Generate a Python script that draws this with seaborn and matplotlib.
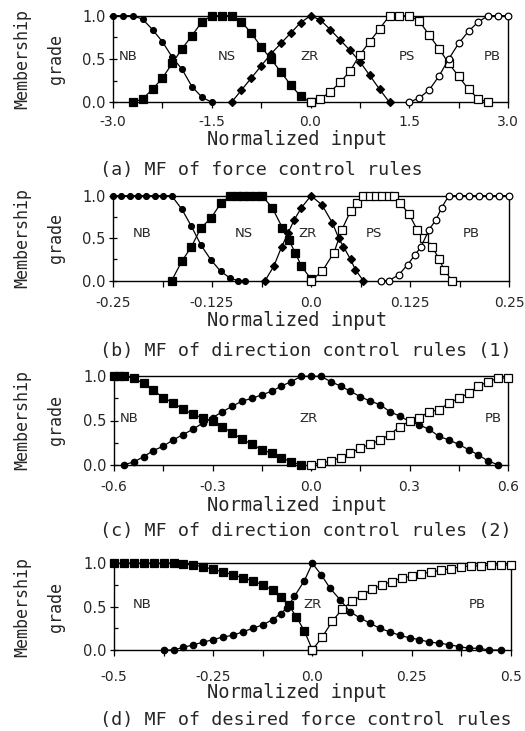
import matplotlib
matplotlib.use("Agg")
import matplotlib.pyplot as plt
import seaborn as sns

# ---------------- data ----------------
# (a) force control rules
a_nb_x = [-3.0, -2.85, -2.7, -2.55, -2.4, -2.25, -2.1, -1.95, -1.8, -1.65, -1.5]
a_nb_y = [1.0, 1.0, 1.0, 0.96, 0.84, 0.70, 0.52, 0.38, 0.18, 0.06, 0.0]
a_ns_x = [-2.7, -2.55, -2.4, -2.25, -2.1, -1.95, -1.8, -1.65, -1.5, -1.35, -1.2,
          -1.05, -0.9, -0.75, -0.6, -0.45, -0.3, -0.15, 0.0]
a_ns_y = [0.0, 0.04, 0.15, 0.28, 0.45, 0.62, 0.77, 0.93, 1.0, 1.0, 1.0,
          0.93, 0.80, 0.64, 0.50, 0.35, 0.20, 0.07, 0.0]
a_zr_x = [-1.2, -1.05, -0.9, -0.75, -0.6, -0.45, -0.3, -0.15, 0.0,
          0.15, 0.3, 0.45, 0.6, 0.75, 0.9, 1.05, 1.2]
a_zr_y = [0.0, 0.14, 0.28, 0.42, 0.56, 0.68, 0.80, 0.92, 1.0,
          0.95, 0.84, 0.72, 0.60, 0.47, 0.31, 0.15, 0.0]
a_ps_x = [0.0, 0.15, 0.3, 0.45, 0.6, 0.75, 0.9, 1.05, 1.2, 1.35, 1.5,
          1.65, 1.8, 1.95, 2.1, 2.25, 2.4, 2.55, 2.7]
a_ps_y = [0.0, 0.04, 0.12, 0.23, 0.36, 0.55, 0.70, 0.85, 1.0, 1.0, 1.0,
          0.94, 0.78, 0.62, 0.45, 0.30, 0.15, 0.04, 0.0]
a_pb_x = [1.5, 1.65, 1.8, 1.95, 2.1, 2.25, 2.4, 2.55, 2.7, 2.85, 3.0]
a_pb_y = [0.0, 0.05, 0.14, 0.30, 0.50, 0.68, 0.82, 0.93, 1.0, 1.0, 1.0]

# (b) direction control rules (1)
b_nb_x = [-0.25, -0.24, -0.229, -0.218, -0.208, -0.197, -0.187, -0.176,
          -0.163, -0.151, -0.139, -0.126, -0.114, -0.102, -0.092, -0.083]
b_nb_y = [1.0, 1.0, 1.0, 1.0, 1.0, 1.0, 1.0, 1.0,
          0.84, 0.64, 0.42, 0.24, 0.11, 0.03, 0.0, 0.0]
b_ns_x = [-0.176, -0.163, -0.151, -0.139, -0.126, -0.114, -0.102, -0.094, -0.086,
          -0.078, -0.070, -0.062, -0.049, -0.036, -0.028, -0.020, -0.012, 0.0]
b_ns_y = [0.0, 0.23, 0.40, 0.62, 0.74, 0.91, 1.0, 1.0, 1.0,
          1.0, 1.0, 1.0, 0.86, 0.62, 0.48, 0.33, 0.17, 0.02]
b_zr_x = [-0.058, -0.047, -0.037, -0.029, -0.021, -0.012, 0.0,
          0.014, 0.027, 0.035, 0.041, 0.050, 0.056, 0.066]
b_zr_y = [0.0, 0.17, 0.40, 0.56, 0.72, 0.86, 1.0,
          0.89, 0.68, 0.50, 0.40, 0.25, 0.13, 0.0]
b_ps_x = [0.0, 0.014, 0.029, 0.039, 0.050, 0.058, 0.066, 0.074, 0.082, 0.090,
          0.098, 0.105, 0.113, 0.124, 0.134, 0.143, 0.153, 0.162, 0.168, 0.178]
b_ps_y = [0.0, 0.11, 0.33, 0.60, 0.82, 0.92, 1.0, 1.0, 1.0, 1.0,
          1.0, 1.0, 0.91, 0.78, 0.60, 0.50, 0.40, 0.25, 0.13, 0.0]
b_pb_x = [0.088, 0.098, 0.111, 0.122, 0.131, 0.139, 0.149, 0.158, 0.165,
          0.174, 0.187, 0.199, 0.212, 0.225, 0.237, 0.25]
b_pb_y = [0.0, 0.0, 0.07, 0.19, 0.30, 0.40, 0.60, 0.72, 0.86,
          1.0, 1.0, 1.0, 1.0, 1.0, 1.0, 1.0]

# (c) direction control rules (2)
c_nb_x = [-0.6, -0.585, -0.57, -0.54, -0.51, -0.48, -0.45, -0.42, -0.39, -0.36, -0.33,
          -0.30, -0.27, -0.24, -0.21, -0.18, -0.15, -0.12, -0.09, -0.06, -0.03]
c_nb_y = [1.0, 1.0, 1.0, 0.98, 0.92, 0.84, 0.76, 0.70, 0.63, 0.57, 0.53,
          0.49, 0.43, 0.36, 0.29, 0.23, 0.17, 0.13, 0.08, 0.03, 0.0]
c_zr_x = [-0.57, -0.54, -0.51, -0.48, -0.45, -0.42, -0.39, -0.36, -0.33, -0.30,
          -0.27, -0.24, -0.21, -0.18, -0.15, -0.12, -0.09, -0.06, -0.03, 0.0,
          0.03, 0.06, 0.09, 0.12, 0.15, 0.18, 0.21, 0.24, 0.27, 0.30,
          0.33, 0.36, 0.39, 0.42, 0.45, 0.48, 0.51, 0.54, 0.57]
c_zr_y = [0.0, 0.03, 0.09, 0.16, 0.21, 0.28, 0.34, 0.40, 0.47, 0.53,
          0.60, 0.66, 0.72, 0.75, 0.79, 0.83, 0.89, 0.94, 1.0, 1.0,
          1.0, 0.94, 0.89, 0.83, 0.77, 0.72, 0.68, 0.60, 0.55, 0.49,
          0.45, 0.40, 0.32, 0.28, 0.23, 0.17, 0.11, 0.04, 0.0]
c_pb_x = [0.0, 0.03, 0.06, 0.09, 0.12, 0.15, 0.18, 0.21, 0.24, 0.27, 0.30,
          0.33, 0.36, 0.39, 0.42, 0.45, 0.48, 0.51, 0.54, 0.57, 0.6]
c_pb_y = [0.0, 0.02, 0.04, 0.08, 0.13, 0.19, 0.23, 0.28, 0.34, 0.43, 0.49,
          0.53, 0.60, 0.62, 0.70, 0.75, 0.81, 0.89, 0.94, 0.98, 0.98]

# (d) desired force control rules
d_nb_x = [-0.5, -0.475, -0.45, -0.425, -0.4, -0.375, -0.35, -0.325, -0.3, -0.275, -0.25,
          -0.225, -0.2, -0.175, -0.15, -0.125, -0.1, -0.08, -0.06, -0.04, -0.02, 0.0]
d_nb_y = [1.0, 1.0, 1.0, 1.0, 1.0, 1.0, 1.0, 0.99, 0.98, 0.96, 0.93,
          0.90, 0.87, 0.83, 0.80, 0.75, 0.69, 0.61, 0.52, 0.38, 0.22, 0.0]
d_zr_x = [-0.375, -0.35, -0.325, -0.3, -0.275, -0.25, -0.225, -0.2, -0.175, -0.15,
          -0.125, -0.1, -0.08, -0.065, -0.045, -0.02, 0.0, 0.022, 0.045, 0.07,
          0.095, 0.12, 0.145, 0.17, 0.195, 0.22, 0.245, 0.27, 0.295, 0.32,
          0.345, 0.37, 0.395, 0.42, 0.445, 0.475]
d_zr_y = [0.0, 0.0, 0.03, 0.06, 0.09, 0.12, 0.15, 0.17, 0.21, 0.25,
          0.29, 0.35, 0.42, 0.48, 0.62, 0.80, 1.0, 0.87, 0.71, 0.58,
          0.44, 0.37, 0.31, 0.25, 0.21, 0.17, 0.14, 0.12, 0.09, 0.08,
          0.06, 0.04, 0.02, 0.02, 0.0, 0.0]
d_pb_x = [0.0, 0.025, 0.05, 0.075, 0.1, 0.125, 0.15, 0.175, 0.2, 0.225, 0.25,
          0.275, 0.3, 0.325, 0.35, 0.375, 0.4, 0.425, 0.45, 0.475, 0.5]
d_pb_y = [0.0, 0.15, 0.33, 0.47, 0.56, 0.63, 0.70, 0.75, 0.79, 0.83, 0.85,
          0.88, 0.90, 0.92, 0.94, 0.96, 0.97, 0.97, 0.98, 0.98, 0.98]

# tick values and labels
a_ticks = [-3.0, -1.5, 0.0, 1.5, 3.0]
a_ticklabels = ["-3.0", "-1.5", "0.0", "1.5", "3.0"]
b_ticks = [-0.25, -0.125, 0.0, 0.125, 0.25]
b_ticklabels = ["-0.25", "-0.125", "0.0", "0.125", "0.25"]
c_ticks = [-0.6, -0.3, 0.0, 0.3, 0.6]
c_ticklabels = ["-0.6", "-0.3", "0.0", "0.3", "0.6"]
d_ticks = [-0.5, -0.25, 0.0, 0.25, 0.5]
d_ticklabels = ["-0.5", "-0.25", "0.0", "0.25", "0.5"]
y_ticks = [0.0, 0.5, 1.0]
y_ticklabels = ["0.0", "0.5", "1.0"]

captions = ["(a) MF of force control rules",
            "(b) MF of direction control rules (1)",
            "(c) MF of direction control rules (2)",
            "(d) MF of desired force control rules"]

# ---------------- style ----------------
sns.set_style("white")
plt.rcParams["font.family"] = ["DejaVu Sans", "DejaVu Sans Mono"]
plt.rcParams["axes.unicode_minus"] = False
MONO = ["DejaVu Sans Mono", "DejaVu Sans"]

W, H = 525, 731
fig = plt.figure(figsize=(W / 100, H / 100), dpi=100)
fig.patch.set_facecolor("white")


def rect(l, r, t, b):
    return [l / W, 1 - b / H, (r - l) / W, (b - t) / H]


def curve(ax, x, y, marker, filled, ms):
    sns.lineplot(x=x, y=y, ax=ax, color="black", linewidth=0.9,
                 marker=marker, markersize=ms,
                 markerfacecolor="black" if filled else "white",
                 markeredgecolor="black", markeredgewidth=0.9,
                 estimator=None, sort=False, errorbar=None,
                 clip_on=False, zorder=3)


def frame(ax, lim, ticks, labels, minor_step, xpad):
    ax.set_xlim(-lim, lim)
    ax.set_ylim(0, 1)
    ax.set_xticks(ticks, labels)
    n = int(round(2 * lim / minor_step))
    ax.set_xticks([-lim + i * minor_step for i in range(n + 1)], minor=True)
    ax.set_yticks(y_ticks, y_ticklabels)
    ax.set_yticks([0.25, 0.75], minor=True)
    for s in ax.spines.values():
        s.set_visible(True)
        s.set_color("black")
        s.set_linewidth(1.0)
    ax.tick_params(axis="x", which="both", bottom=True, direction="out",
                   length=4, width=0.9, color="black")
    ax.tick_params(axis="x", which="major", pad=xpad, labelsize=10)
    ax.tick_params(axis="y", which="major", left=True, direction="inout",
                   length=6, width=0.9, pad=2.5, labelsize=10.5, color="black")
    ax.tick_params(axis="y", which="minor", left=True, direction="in",
                   length=3, width=0.9, color="black")
    ax.set_xlabel("")
    ax.set_ylabel("")


def region_labels(ax, items, y):
    for name, x in items:
        ax.text(x, y, name, ha="center", va="center", fontsize=9.5)


def side_text(ax_top, ax_bot, xlab_base):
    yc = (ax_top + ax_bot) / 2
    fig.text(22 / W, 1 - yc / H, "Membership", rotation=90, ha="center",
             va="center", fontsize=12, family=MONO)
    fig.text(56 / W, 1 - yc / H, "grade", rotation=90, ha="center",
             va="center", fontsize=12, family=MONO)
    fig.text(297 / W, 1 - xlab_base / H, "Normalized input", ha="center",
             va="baseline", fontsize=13.5, family=MONO)


def caption(text, base):
    fig.text(100 / W, 1 - base / H, text, ha="left", va="baseline",
             fontsize=13.2, family=MONO)


# (a)
ax = fig.add_axes(rect(113, 508, 15.7, 102.3))
curve(ax, a_nb_x, a_nb_y, "o", True, 4.2)
curve(ax, a_ns_x, a_ns_y, "s", True, 5.5)
curve(ax, a_zr_x, a_zr_y, "D", True, 3.6)
curve(ax, a_ps_x, a_ps_y, "s", False, 5.2)
curve(ax, a_pb_x, a_pb_y, "o", False, 4.8)
frame(ax, 3.0, a_ticks, a_ticklabels, 0.75, 5.0)
region_labels(ax, [("NB", -2.77), ("NS", -1.27), ("ZR", -0.02), ("PS", 1.47), ("PB", 2.76)], 0.53)
side_text(15.7, 102.3, 145)
caption(captions[0], 175)

# (b)
ax = fig.add_axes(rect(113, 509, 195.7, 280.7))
curve(ax, b_nb_x, b_nb_y, "o", True, 4.2)
curve(ax, b_ns_x, b_ns_y, "s", True, 5.5)
curve(ax, b_zr_x, b_zr_y, "D", True, 3.6)
curve(ax, b_ps_x, b_ps_y, "s", False, 5.2)
curve(ax, b_pb_x, b_pb_y, "o", False, 4.8)
frame(ax, 0.25, b_ticks, b_ticklabels, 0.0625, 7.0)
region_labels(ax, [("NB", -0.213), ("NS", -0.085), ("ZR", -0.004), ("PS", 0.079), ("PB", 0.202)], 0.55)
side_text(195.7, 280.7, 326)
caption(captions[1], 356)

# (c)
ax = fig.add_axes(rect(114, 508, 376.3, 464.7))
curve(ax, c_nb_x, c_nb_y, "s", True, 5.5)
curve(ax, c_zr_x, c_zr_y, "o", True, 4.6)
curve(ax, c_pb_x, c_pb_y, "s", False, 5.2)
frame(ax, 0.6, c_ticks, c_ticklabels, 0.15, 7.0)
region_labels(ax, [("NB", -0.555), ("ZR", -0.009), ("PB", 0.554)], 0.52)
side_text(376.3, 464.7, 511)
caption(captions[2], 536)

# (d)
ax = fig.add_axes(rect(114, 510.7, 563.3, 650))
curve(ax, d_nb_x, d_nb_y, "s", True, 5.5)
curve(ax, d_zr_x, d_zr_y, "o", True, 4.6)
curve(ax, d_pb_x, d_pb_y, "s", False, 5.2)
frame(ax, 0.5, d_ticks, d_ticklabels, 0.125, 10.5)
region_labels(ax, [("NB", -0.43), ("ZR", 0.0), ("PB", 0.415)], 0.52)
side_text(563.3, 650, 698)
caption(captions[3], 725)

fig.savefig("out.png", dpi=100, facecolor="white")
